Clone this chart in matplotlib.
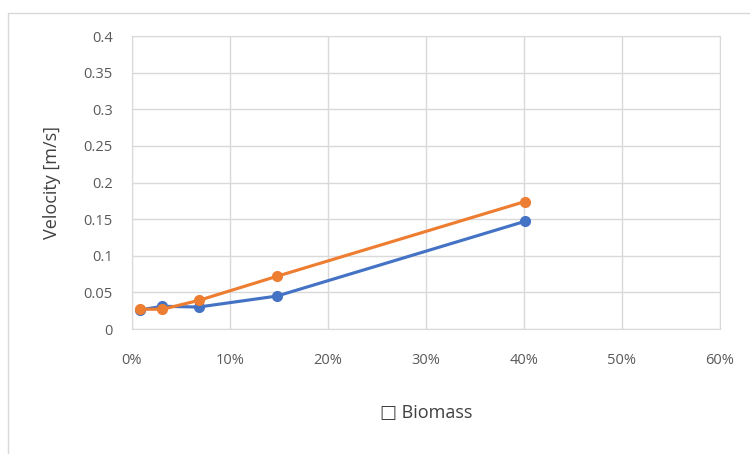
import matplotlib.pyplot as plt
from matplotlib.patches import Rectangle
from matplotlib.ticker import PercentFormatter

# Datos
biomasa = [0.008, 0.031, 0.068, 0.148, 0.401]
vel_azul = [0.026, 0.031, 0.030, 0.045, 0.147]
vel_naranja = [0.027, 0.027, 0.039, 0.072, 0.174]

plt.rcParams['font.family'] = ['Open Sans', 'DejaVu Sans']

fig = plt.figure(figsize=(7.5, 4.54), dpi=100)
ax = fig.add_axes([0.176, 0.2753, 0.784, 0.6454])

# Borde del area del grafico
fig.patches.append(Rectangle((8 / 750, -0.1), 1.2, 1 - 13 / 454 + 0.1,
                             transform=fig.transFigure, fill=False,
                             edgecolor='#d9d9d9', linewidth=1))

ax.plot(biomasa, vel_azul, color='#4472c4', linewidth=2.25,
        marker='o', markersize=7, zorder=3)
ax.plot(biomasa, vel_naranja, color='#ed7d31', linewidth=2.25,
        marker='o', markersize=7, zorder=4)

ax.set_xlim(0, 0.6)
ax.set_ylim(0, 0.4)
ax.set_xticks([0, 0.1, 0.2, 0.3, 0.4, 0.5, 0.6])
ax.set_yticks([0, 0.05, 0.1, 0.15, 0.2, 0.25, 0.3, 0.35, 0.4])
ax.set_yticklabels(['0', '0.05', '0.1', '0.15', '0.2', '0.25', '0.3', '0.35', '0.4'])
ax.xaxis.set_major_formatter(PercentFormatter(1.0, decimals=0))

ax.grid(True, color='#d9d9d9', linewidth=1)
ax.set_axisbelow(True)
for s in ax.spines.values():
    s.set_color('#d9d9d9')
ax.tick_params(length=0, labelsize=10.5, colors='#595959')
ax.tick_params(axis='y', pad=14)
ax.tick_params(axis='x', pad=17)

ax.set_ylabel('Velocity [m/s]', fontsize=13, color='#404040', labelpad=16)
ax.set_xlabel('\u25a1 Biomass', fontsize=13, color='#404040', labelpad=26)

fig.savefig('out.png', dpi=100)
